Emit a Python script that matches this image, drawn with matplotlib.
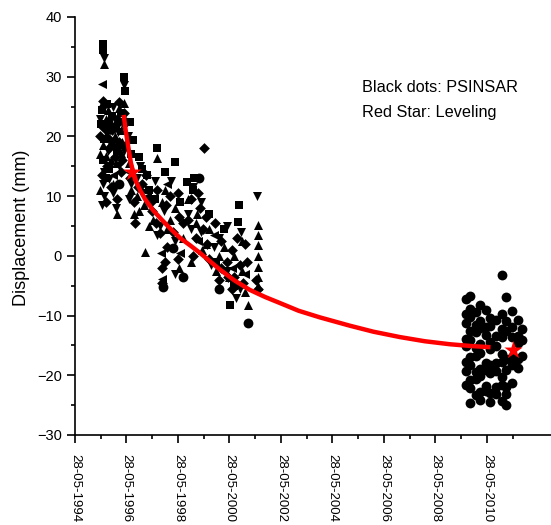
import matplotlib
matplotlib.use('Agg')
import matplotlib.pyplot as plt
from matplotlib.ticker import MultipleLocator, FixedLocator

plt.rcParams['font.family'] = ['Liberation Sans', 'DejaVu Sans']

# ── PSInSAR points (decimal years, displacement in mm), grouped by marker ────
sq_dates = [1995.50, 1995.50, 1996.32, 1996.34, 1996.55, 1996.66, 1997.59, 1998.29,
            1995.45, 1995.75, 1996.05, 1995.60, 1996.90, 1997.20, 1997.50, 1998.76,
            1999.00, 1999.60, 2000.20, 2000.78, 2000.74, 2000.43, 1998.50, 1997.90,
            1999.90, 2000.60, 1995.42, 1995.55, 1995.65, 1995.85, 1996.00, 1996.20,
            1995.50, 1995.75, 1996.60, 1997.00, 1997.30, 1999.05]
sq_vals = [35.5, 34.4, 30.0, 27.6, 22.4, 19.4, 18.0, 15.7,
           24.5, 21.0, 17.5, 13.0, 16.5, 13.5, 9.5, 12.3,
           11.0, 7.0, 4.5, 8.5, 5.7, -8.2, 9.0, 14.0,
           -1.0, -5.0, 22.0, 19.5, 25.5, 23.5, 21.5, 24.0,
           16.0, 14.5, 17.0, 14.5, 11.0, 13.0]

up_dates = [1995.52, 1996.32, 1997.59, 1997.13, 1995.60, 1995.80, 1996.00, 1996.20,
            1995.40, 1996.60, 1996.90, 1997.30, 1997.80, 1998.10, 1998.60, 1999.10,
            1999.50, 2000.00, 2000.40, 2001.13, 2001.50, 2001.50, 2001.50, 2001.50,
            2001.50, 2001.50, 2001.50, 2000.90, 1998.90, 1995.45, 1995.70, 1995.95,
            1996.10, 1995.50, 1995.80, 1996.25, 1995.40, 1995.90, 1996.03, 1996.50,
            1996.80, 1997.10, 1997.45, 1996.70, 1997.90, 1998.00, 1998.30, 1998.45,
            1998.80, 1999.15, 1999.35, 1999.60, 1999.90, 2000.20, 2000.60, 2000.90,
            2001.00, 1995.62, 1995.95, 1996.18]
up_vals = [32.2, 25.6, 16.4, 0.7, 23.0, 19.0, 15.5, 21.0,
           17.0, 11.0, 7.5, 5.0, 9.0, 6.0, 3.0, 5.5,
           2.0, 0.0, -3.5, -8.2, 5.2, 3.5, 1.8, 0.0,
           -1.8, -3.5, -5.0, -2.5, -1.0, 25.5, 24.5, 20.0,
           24.8, 18.5, 16.0, 19.0, 11.0, 12.0, 7.0, 15.5,
           10.0, 8.5, 6.0, 7.0, 11.0, 4.5, 8.0, -2.0,
           9.5, 7.0, 1.0, 4.5, -2.5, 1.5, 0.0, 2.5,
           -6.0, 16.8, 22.2, 17.2]

dn_dates = [1995.52, 1996.33, 2001.48, 1995.50, 1995.55, 1995.45, 1995.90, 1996.00,
            1996.45, 1995.70, 1995.90, 1996.15, 1996.80, 1997.00, 1997.70, 1998.30,
            1998.80, 1999.30, 1999.80, 2000.30, 2000.80, 1997.50, 1995.40, 1995.60,
            1995.75, 1996.00, 1996.30, 1995.55, 1995.85, 1996.10, 1996.30, 1996.60,
            1996.95, 1997.20, 1997.60, 1996.50, 1997.85, 1998.15, 1998.30, 1999.00,
            1999.30, 1998.90, 1999.70, 2000.00, 2000.30, 2000.65, 2000.85, 1995.72,
            1996.08]
dn_vals = [33.2, 28.6, 10.0, 12.0, 10.0, 8.5, 10.5, 8.0,
           20.0, 17.5, 25.0, 22.5, 13.0, 10.5, 5.0, 2.5,
           7.0, 4.0, 1.5, -2.5, -5.5, 12.5, 23.0, 20.5,
           22.5, 18.0, 21.5, 14.0, 18.5, 15.0, 17.5, 12.0,
           15.0, 9.0, 3.5, 9.5, 7.5, 12.5, -3.0, 11.5,
           9.0, 4.5, -1.5, 3.0, 5.0, -7.0, 4.0, 12.8,
           20.8]

dm_dates = [1999.42, 1997.73, 1997.80, 1997.80, 1995.40, 1995.65, 1995.80, 1996.10,
            1996.25, 1996.70, 1997.00, 1997.40, 1998.10, 1998.00, 1998.40, 1998.60,
            1998.90, 1999.25, 1999.50, 1999.60, 2000.10, 2000.30, 2000.50, 2000.60,
            2000.80, 2001.00, 2001.45, 2001.50, 1999.00, 2000.00, 1995.50, 1995.85,
            1996.05, 1996.30, 1995.45, 1995.60, 1995.95, 1996.20, 1995.50, 1995.75,
            1996.40, 1996.03, 1996.55, 1996.85, 1997.15, 1997.35, 1997.55, 1997.60,
            1996.75, 1997.95, 1998.20, 1998.40, 1997.90, 1998.45, 1998.80, 1999.10,
            1999.40, 1999.20, 1999.85, 2000.10, 2000.35, 1999.55, 2000.70, 2000.50,
            2000.95, 2001.10, 1995.68, 1996.12]
dm_vals = [18.0, 3.9, -2.0, -4.5, 20.0, 15.0, 11.5, 19.0,
           16.0, 9.0, 12.0, 7.5, 10.0, 1.5, -0.5, 5.5,
           9.5, 8.0, 6.5, -0.5, 2.5, -1.0, 1.0, -3.5,
           -1.5, 2.0, -4.0, -5.5, 0.0, -4.0, 21.5, 21.0,
           23.0, 24.0, 13.5, 9.0, 16.5, 14.0, 26.0, 18.0,
           22.5, 9.5, 13.0, 11.5, 13.5, 9.0, 5.5, 11.0,
           5.5, 8.5, 4.0, 10.5, -1.0, 6.5, 6.0, 3.0,
           4.5, 10.5, 5.5, -2.0, -3.5, 2.0, 3.0, -5.5,
           -4.5, -1.0, 19.8, 25.8]

lt_dates = [1995.45, 1997.75, 1997.79, 1995.60, 1995.90, 1996.20, 1996.50, 1997.20,
            1998.00, 1998.50, 1999.20, 1999.80, 2000.50, 2001.00]
lt_vals = [28.7, 0.5, -3.9, 21.0, 13.5, 18.5, 14.0, 10.0,
           12.0, 0.5, 2.5, 3.5, -2.0, -3.0]

ci_dates = [1997.81, 1998.20, 1999.23, 2001.13, 1996.10, 1998.60, 2000.00, 1995.70,
            # 2009-2011 acquisitions
            2009.60, 2009.60, 2009.60, 2009.60, 2009.60, 2009.60, 2009.60, 2009.60,
            2009.75, 2009.75, 2009.75, 2009.75, 2009.75, 2009.75, 2009.75, 2009.75,
            2009.75, 2009.75,
            2009.98, 2009.98, 2009.98, 2009.98, 2009.98, 2009.98, 2009.98, 2009.98,
            2010.14, 2010.14, 2010.14, 2010.14, 2010.14, 2010.14, 2010.14, 2010.14,
            2010.14,
            2010.37, 2010.37, 2010.37, 2010.37, 2010.37, 2010.37, 2010.37,
            2010.53, 2010.53, 2010.53, 2010.53, 2010.53, 2010.53, 2010.53, 2010.53,
            2010.76, 2010.76, 2010.76, 2010.76, 2010.76, 2010.76, 2010.76,
            2011.00, 2011.00, 2011.00, 2011.00, 2011.00, 2011.00, 2011.00, 2011.00,
            2011.00,
            2011.15, 2011.15, 2011.15, 2011.15, 2011.15, 2011.15, 2011.15, 2011.15,
            2011.38, 2011.38, 2011.38, 2011.38, 2011.38, 2011.38,
            2011.61, 2011.61, 2011.61, 2011.61, 2011.61,
            2011.77, 2011.77, 2011.77]
ci_vals = [-5.2, 1.3, 13.0, -11.2, 12.0, -3.5, -5.5, 22.5,
           -7.2, -9.8, -11.2, -13.9, -15.1, -17.8, -19.2, -21.7,
           -6.8, -8.9, -10.3, -12.6, -14.1, -16.9, -18.3, -20.8,
           -22.2, -24.6,
           -9.4, -11.6, -12.8, -15.5, -16.7, -19.4, -20.6, -23.3,
           -8.2, -10.9, -12.1, -14.8, -16.2, -18.9, -20.2, -22.8,
           -24.1,
           -9.1, -11.9, -13.2, -17.9, -19.1, -21.8, -22.7,
           -10.4, -11.7, -14.4, -15.6, -18.3, -19.7, -22.9, -24.4,
           -10.7, -13.4, -15.1, -17.9, -19.2, -21.9, -23.2,
           -3.2, -9.7, -12.3, -13.6, -16.4, -17.7, -20.3, -21.6,
           -24.3,
           -6.9, -10.9, -12.6, -17.3, -19.1, -21.9, -23.1, -25.0,
           -9.2, -11.9, -13.6, -16.9, -18.2, -21.3,
           -10.7, -13.4, -14.6, -17.3, -18.7,
           -12.3, -14.1, -16.8]

# ── Fitted curve and leveling stars ──────────────────────────────────────────
fit_dates = [1996.30, 1996.38, 1996.47, 1996.58, 1996.74, 1996.95, 1997.13, 1997.45,
             1997.79, 1998.15, 1998.49, 1998.90, 1999.26, 1999.65, 2000.04, 2000.60,
             2001.20, 2001.80, 2002.37, 2003.10, 2003.92, 2005.09, 2006.00, 2007.03,
             2008.00, 2008.97, 2009.80, 2010.55]
fit_vals = [23.6, 21.0, 18.5, 15.6, 12.8, 10.9, 9.5, 7.6,
            6.0, 4.4, 3.0, 1.7, 0.5, -0.9, -2.3, -4.1,
            -5.7, -6.9, -7.9, -9.2, -10.3, -11.7, -12.7, -13.6,
            -14.3, -14.8, -15.1, -15.3]

lev_dates = [1996.62, 2011.42]
lev_vals = [14.0, -15.8]

tick_years = [1994.41, 1996.41, 1998.41, 2000.41, 2002.41, 2004.41, 2006.41, 2008.41, 2010.41]
tick_labels = ['28-05-1994', '28-05-1996', '28-05-1998', '28-05-2000', '28-05-2002',
               '28-05-2004', '28-05-2006', '28-05-2008', '28-05-2010']

fig = plt.figure(figsize=(5.51, 5.25), dpi=100)
ax = fig.add_axes([75 / 551, 90 / 525, 476 / 551, 418 / 525])

ax.scatter(sq_dates, sq_vals, marker='s', s=28, color='black', linewidths=0, zorder=2)
ax.scatter(up_dates, up_vals, marker='^', s=42, color='black', linewidths=0, zorder=2)
ax.scatter(dn_dates, dn_vals, marker='v', s=42, color='black', linewidths=0, zorder=2)
ax.scatter(dm_dates, dm_vals, marker='D', s=30, color='black', linewidths=0, zorder=2)
ax.scatter(lt_dates, lt_vals, marker='<', s=42, color='black', linewidths=0, zorder=2)
ax.scatter(ci_dates, ci_vals, marker='o', s=50, color='black', linewidths=0, zorder=2)

ax.plot(fit_dates, fit_vals, color='#ff0000', lw=3.2, solid_capstyle='butt', zorder=3)
ax.scatter(lev_dates, lev_vals, marker='*', s=190, color='#ff0000', linewidths=0, zorder=4)

ax.set_xlim(1994.41, 2012.90)
ax.set_ylim(-30, 40)

ax.xaxis.set_major_locator(FixedLocator(tick_years))
ax.xaxis.set_minor_locator(FixedLocator([y + 1 for y in tick_years]))
ax.set_xticklabels(tick_labels, rotation=-90, fontsize=9.5)
ax.yaxis.set_major_locator(MultipleLocator(10))
ax.yaxis.set_minor_locator(MultipleLocator(5))
ax.tick_params(axis='both', which='major', direction='out', length=6, width=1.2,
               labelsize=10.5)
ax.tick_params(axis='both', which='minor', direction='out', length=3, width=1.2)
ax.tick_params(axis='x', which='major', pad=8, labelsize=9.5)

for side in ['top', 'right']:
    ax.spines[side].set_visible(False)
for side in ['left', 'bottom']:
    ax.spines[side].set_linewidth(1.2)

ax.set_ylabel('Displacement (mm)', fontsize=13)
ax.yaxis.set_label_coords(-0.095, 0.495)

fig.text(362 / 551, 1 - 87 / 525, 'Black dots: PSINSAR', fontsize=11.7, va='center')
fig.text(362 / 551, 1 - 112 / 525, 'Red Star: Leveling', fontsize=11.7, va='center')

fig.savefig('out.png', dpi=100)
